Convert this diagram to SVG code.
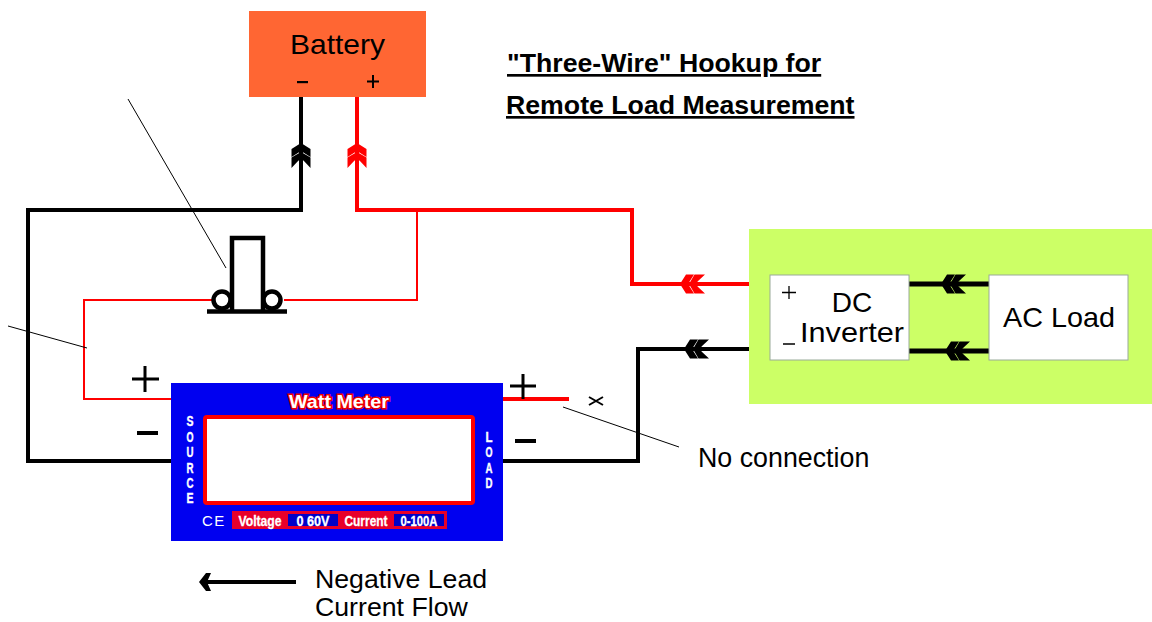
<svg xmlns="http://www.w3.org/2000/svg" width="1152" height="622" viewBox="0 0 1152 622">
<style>
text{font-family:"Liberation Sans",Arial,sans-serif;fill:#000}
.w{fill:none;stroke-linejoin:miter;stroke-linecap:butt}
.k{stroke:#000}.r{stroke:#f00}
.t{fill:#fff;font-weight:700;text-anchor:middle;stroke:#fff;stroke-width:.3}
.s{fill:#fff;font-weight:700;font-size:14px;text-anchor:middle;stroke:#fff;stroke-width:.4}
.lead{fill:none;stroke:#000;stroke-width:1}
</style>
<defs>
<g id="chev"><path d="M0 0L6-9.500H14L8 0L14 9.500H6ZM9 0L14.500-9.500H25L17.500-2.500V2.500L25 9.500H14.500Z"/></g>
</defs>
<rect width="1152" height="622" fill="#fff"/>
<g id="battery"><rect x="249" y="11" width="177" height="86" fill="#ff6633"/>
<text x="290" y="54" font-size="28" textLength="95" lengthAdjust="spacingAndGlyphs">Battery</text>
<rect x="297" y="81" width="11" height="2.200" fill="#000"/>
<path d="M373 75V88M367 81.500H379" stroke="#000" stroke-width="2" fill="none"/></g>
<g id="inverter-area"><rect x="749" y="229" width="403" height="175" fill="#ccff66"/></g>
<g id="connectors">
<path class="w k" stroke-width="4" d="M301 97V210H28V461H171"/>
<path class="w r" stroke-width="4" d="M357 97V210H632V284H749"/>
<path class="w r" stroke-width="2" d="M417 210V300H284M212 300H84V399H171"/>
<path class="w r" stroke-width="4" d="M503 399H569"/>
<path class="w k" stroke-width="4" d="M503 461H638V349H749"/>
<path class="w k" stroke-width="5" d="M909 284H989M909 351H989"/>
<use href="#chev" transform="translate(301 143) rotate(90)" fill="#000"/>
<use href="#chev" transform="translate(357 143) rotate(90)" fill="#f00"/>
<use href="#chev" transform="translate(680 284)" fill="#f00"/>
<use href="#chev" transform="translate(684 349)" fill="#000"/>
<use href="#chev" transform="translate(941 284)" fill="#000"/>
<use href="#chev" transform="translate(945 351)" fill="#000"/>
<path class="lead" d="M128 99L226 268M8 326L87 348M563 407L679 447"/>
</g>
<g id="shunt" fill="none" stroke="#000">
<circle cx="222" cy="300" r="8.500" stroke-width="4.500" fill="#fff"/>
<circle cx="272" cy="300" r="8.500" stroke-width="4.500" fill="#fff"/>
<path stroke-width="4.500" d="M232 311V238H263V311" fill="#fff"/>
<path stroke-width="4.500" d="M207 311.500H287"/>
</g>
<g id="watt-meter">
<rect x="171" y="383" width="332" height="158" fill="#0000f0"/>
<rect x="205" y="417" width="268" height="86" fill="#fff" stroke="#f00" stroke-width="4" rx="2"/>
<text x="339" y="408" font-size="19" font-weight="700" text-anchor="middle" style="fill:#fff" stroke="#e00" stroke-width="3" paint-order="stroke" textLength="100" lengthAdjust="spacingAndGlyphs">Watt Meter</text>
<g><text class="s" x="190" y="426" textLength="7" lengthAdjust="spacingAndGlyphs">S</text><text class="s" x="190" y="442" textLength="7" lengthAdjust="spacingAndGlyphs">O</text><text class="s" x="190" y="457" textLength="7" lengthAdjust="spacingAndGlyphs">U</text><text class="s" x="190" y="473" textLength="7" lengthAdjust="spacingAndGlyphs">R</text><text class="s" x="190" y="488" textLength="7" lengthAdjust="spacingAndGlyphs">C</text><text class="s" x="190" y="503" textLength="7" lengthAdjust="spacingAndGlyphs">E</text></g>
<g><text class="s" x="489" y="442" textLength="7" lengthAdjust="spacingAndGlyphs">L</text><text class="s" x="489" y="457" textLength="7" lengthAdjust="spacingAndGlyphs">O</text><text class="s" x="489" y="473" textLength="7" lengthAdjust="spacingAndGlyphs">A</text><text class="s" x="489" y="488" textLength="7" lengthAdjust="spacingAndGlyphs">D</text></g>
<text x="202" y="526" font-size="15" style="fill:#fff" letter-spacing="1.500">CE</text>
<rect x="232" y="511" width="215" height="18" fill="#e8002a"/>
<rect x="288" y="514" width="50" height="12" fill="#0000c8"/>
<rect x="394" y="514" width="50" height="12" fill="#0000c8"/>
<text class="t" x="260" y="525.500" font-size="14" textLength="43" lengthAdjust="spacingAndGlyphs">Voltage</text>
<text class="t" x="313" y="525.500" font-size="14" textLength="33" lengthAdjust="spacingAndGlyphs">0 60V</text>
<text class="t" x="366" y="525.500" font-size="14" textLength="43" lengthAdjust="spacingAndGlyphs">Current</text>
<text class="t" x="419" y="525.500" font-size="14" textLength="37" lengthAdjust="spacingAndGlyphs">0-100A</text>
</g>
<g id="polarity" stroke="#000" fill="none">
<path stroke-width="3" d="M145 366V392M132 379H159"/>
<path stroke-width="4" d="M137 433H158"/>
<path stroke-width="3" d="M523 374V399M510 386H536"/>
<path stroke-width="4" d="M515 441H536"/>
<path stroke-width="2" d="M589 397L603 405M603 397L589 405"/>
</g>
<g id="dc-inverter"><rect x="770" y="275" width="139" height="85" fill="#fff" stroke="#9a9" stroke-width="1"/>
<text x="852" y="312" font-size="28" text-anchor="middle">DC</text>
<text x="800" y="342" font-size="28" textLength="104" lengthAdjust="spacingAndGlyphs">Inverter</text>
<path d="M789 286V299M782 292.500H796M783 344H795" stroke="#000" stroke-width="1.300" fill="none"/></g>
<g id="ac-load"><rect x="989" y="275" width="139" height="85" fill="#fff" stroke="#9a9" stroke-width="1"/>
<text x="1003" y="327" font-size="28" textLength="112" lengthAdjust="spacingAndGlyphs">AC Load</text></g>
<g id="title">
<text x="507" y="72" font-size="26.700" font-weight="700" text-decoration="underline">"Three-Wire" Hookup for</text>
<text x="506" y="114" font-size="26.700" font-weight="700" text-decoration="underline">Remote Load Measurement</text></g>
<text x="698" y="467" font-size="26.800">No connection</text>
<g id="legend"><path d="M205 582H296" stroke="#000" stroke-width="4" fill="none"/>
<path d="M199 582L206 573H211L207 582L211 591H206Z" fill="#000"/>
<text x="315" y="588" font-size="26.700">Negative Lead</text>
<text x="315" y="616" font-size="26.700">Current Flow</text></g>
</svg>
